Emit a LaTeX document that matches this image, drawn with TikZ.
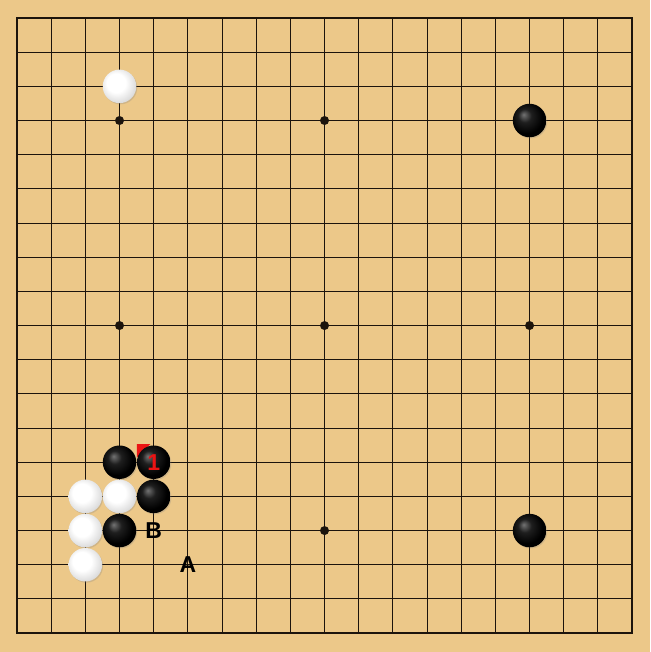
\documentclass[tikz,border=0pt]{standalone}
\usepackage{fontspec}
\setsansfont{Liberation Sans}
\usetikzlibrary{shadows}
\definecolor{boardwood}{RGB}{236,200,137}
\definecolor{gridline}{RGB}{28,20,12}
\definecolor{movered}{RGB}{235,20,20}
\pgfdeclareradialshading{bstoneshade}{\pgfpoint{-9bp}{9bp}}{color(0bp)=(black!55); color(10bp)=(black!88); color(24bp)=(black); color(50bp)=(black)}
\pgfdeclareradialshading{wstoneshade}{\pgfpoint{-7bp}{7bp}}{color(0bp)=(white); color(14bp)=(white); color(26bp)=(black!12); color(50bp)=(black!38)}
\tikzset{
  stone/.style={circle,minimum size=33.5pt,inner sep=0pt,
    drop shadow={opacity=0.25,shadow xshift=1pt,shadow yshift=-1.2pt}},
  bstone/.style={stone,shading=bstoneshade},
  wstone/.style={stone,shading=wstoneshade},
  boardlbl/.style={font=\sffamily\bfseries\fontsize{23}{23}\selectfont,inner sep=0pt},
}
\begin{document}
\begin{tikzpicture}[x=34.17pt,y=-34.17pt]
      \useasboundingbox (-0.4975,-0.527) rectangle (18.525,18.554);
      \fill[boardwood] (-0.4975,-0.527) rectangle (18.525,18.554);
      % grid
      \foreach \i in {0,...,18} {
        \draw[gridline,line width=0.9pt] (\i,0)--(\i,18);
        \draw[gridline,line width=0.9pt] (0,\i)--(18,\i);
      }
      \draw[gridline,line width=1.5pt] (0,0) rectangle (18,18);
      % star points
      \foreach \x in {3,9,15}
        \foreach \y in {3,9,15}
          \fill[gridline] (\x,\y) circle (4.5pt);
      % last move mark
      \fill[movered] (3.51,12.47)--(3.9,12.47)--(3.51,12.86)--cycle;
      % stones
      \node[wstone] (w32) at (3,2) {};
      \node[bstone] (b153) at (15,3) {};
      \node[bstone] (b313) at (3,13) {};
      \node[bstone] (b413) at (4,13) {};
      \node[wstone] (w214) at (2,14) {};
      \node[wstone] (w314) at (3,14) {};
      \node[bstone] (b414) at (4,14) {};
      \node[wstone] (w215) at (2,15) {};
      \node[bstone] (b315) at (3,15) {};
      \node[wstone] (w216) at (2,16) {};
      \node[bstone] (b1515) at (15,15) {};
      % labels
      \node[boardlbl,text=movered] (n1) at (b413) {1};
      \node[boardlbl] (lblB) at (4,15) {B};
      \node[boardlbl] (lblA) at (5,16) {A};
\end{tikzpicture}
\end{document}
